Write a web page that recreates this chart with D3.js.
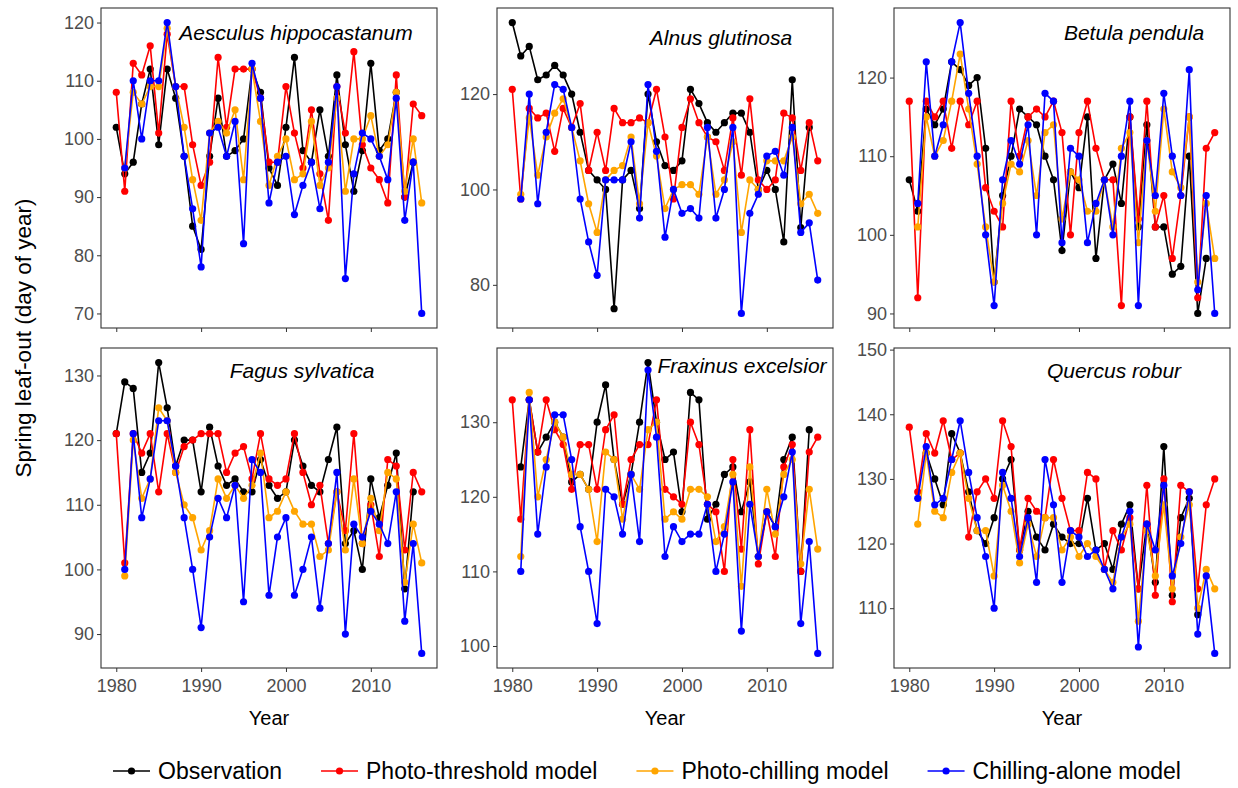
<!DOCTYPE html>
<html><head><meta charset="utf-8">
<script src="https://cdn.jsdelivr.net/npm/d3@7"></script>
<style>body{margin:0;background:#fff}svg{display:block}text{font-family:"Liberation Sans",Arial,sans-serif}</style>
</head><body><div id="chart"></div>
<script>
const years = [1980,1981,1982,1983,1984,1985,1986,1987,1988,1989,1990,1991,1992,1993,1994,1995,1996,1997,1998,1999,2000,2001,2002,2003,2004,2005,2006,2007,2008,2009,2010,2011,2012,2013,2014,2015,2016];
const species = ["Aesculus hippocastanum","Alnus glutinosa","Betula pendula","Fagus sylvatica","Fraxinus excelsior","Quercus robur"];
const seriesNames = ["Observation","Photo-threshold model","Photo-chilling model","Chilling-alone model"];
const seriesColors = ["#000000","#FF0000","#FFA500","#0000FF"];
const xTicks = [1980,1990,2000,2010];

const aesculusObs = [102,94,96,106,112,99,112,107,97,85,81,97,107,97,98,100,112,108,95,92,102,114,98,96,105,97,111,99,91,98,113,98,100,108,90,96,null];
const aesculusPT  = [108,91,113,111,116,101,118,109,109,99,92,96,114,102,112,112,112,107,96,96,109,101,95,105,94,86,109,101,115,99,95,93,89,111,90,106,104];
const aesculusPC  = [null,95,108,106,109,109,119,109,102,93,86,101,103,101,105,93,112,103,92,97,100,93,94,103,92,95,107,91,100,100,104,97,99,108,91,100,89];
const aesculusCA  = [null,95,110,100,110,110,120,109,97,88,78,101,102,97,103,82,113,107,89,96,97,87,92,96,88,96,109,76,94,101,100,97,93,107,86,96,70];

const alnusObs = [135,128,130,123,124,126,124,120,112,104,102,100,75,102,104,96,120,110,105,104,106,121,118,114,112,114,116,116,112,100,104,100,89,123,92,113,null];
const alnusPT  = [121,98,117,115,116,108,117,113,118,104,112,104,117,114,114,115,114,121,111,98,113,119,114,111,110,104,115,103,119,102,100,102,116,115,104,114,106];
const alnusPC  = [null,99,115,103,111,116,119,113,106,97,91,102,104,105,111,97,114,107,96,100,101,101,99,111,99,102,110,91,102,100,106,106,106,111,97,99,95];
const alnusCA  = [null,98,120,97,112,122,121,113,98,89,82,102,102,102,110,94,122,108,90,100,95,96,94,113,94,100,113,74,95,99,107,108,103,113,91,93,81];

const betulaObs = [107,103,116,114,116,122,121,119,120,111,94,105,110,116,115,114,110,107,98,108,106,115,97,107,109,104,115,101,114,101,101,95,96,110,90,97,null];
const betulaPT  = [117,92,117,115,117,111,117,114,117,106,103,101,117,110,115,116,115,117,113,100,113,117,111,107,107,91,115,102,117,101,105,97,105,115,92,111,113];
const betulaPC  = [null,101,115,110,112,117,123,116,109,101,94,104,109,108,112,105,113,114,102,108,107,103,103,107,101,111,113,99,112,103,116,108,106,115,94,104,97];
const betulaCA  = [null,104,122,110,114,122,127,118,110,100,91,107,112,109,114,100,118,117,99,111,110,99,104,107,100,110,117,91,112,105,118,110,105,121,93,105,90];

const fagusObs = [121,129,128,115,118,132,125,116,120,120,112,122,116,113,114,112,112,117,113,111,112,120,116,113,112,117,122,104,106,100,114,108,113,118,97,112,null];
const fagusPT  = [121,101,121,118,121,112,121,115,119,120,121,121,121,115,118,119,114,121,114,113,114,121,115,110,113,104,112,106,121,104,110,102,117,116,103,115,112];
const fagusPC  = [null,99,120,111,114,125,123,115,110,108,103,106,114,111,113,111,113,118,108,109,112,109,107,107,102,103,112,103,114,104,111,106,115,114,98,107,101];
const fagusCA  = [null,100,121,108,114,123,123,116,108,100,91,105,111,108,113,95,117,115,96,105,108,96,100,105,94,104,115,90,107,105,109,107,104,112,92,104,87];

const fraxinusObs = [null,124,133,126,128,130,128,122,123,121,130,135,125,119,123,130,138,130,125,126,118,134,133,117,119,123,124,118,122,112,118,116,125,128,110,129,null];
const fraxinusPT  = [133,117,133,126,133,129,127,121,127,127,121,129,131,119,125,127,127,133,121,120,119,130,127,119,118,110,125,113,129,111,118,112,124,127,110,126,128];
const fraxinusPC  = [null,112,134,120,125,130,128,123,123,121,114,126,125,117,123,121,129,130,117,118,117,121,121,120,114,116,123,108,124,112,121,115,123,125,111,121,113];
const fraxinusCA  = [null,110,133,115,124,131,131,125,116,110,103,121,120,115,123,114,137,128,112,116,114,115,115,119,110,115,122,102,119,112,118,116,120,126,103,114,99];

const quercusObs = [null,null,134,130,126,137,134,128,122,120,124,130,133,119,125,121,119,123,121,120,120,127,119,120,116,123,126,113,123,114,135,112,124,127,109,null,null];
const quercusPT  = [138,128,137,134,139,133,134,121,128,130,127,139,135,119,127,125,124,133,127,122,122,131,130,116,122,119,124,113,129,112,130,111,129,128,113,126,130];
const quercusPC  = [null,123,134,125,124,131,134,127,122,122,115,129,125,117,123,118,124,124,119,121,118,120,118,116,114,121,123,108,122,115,126,113,121,126,110,116,113];
const quercusCA  = [null,127,135,126,127,133,139,131,124,118,110,131,127,118,124,114,133,126,114,122,121,118,119,116,113,121,125,104,123,119,129,115,120,128,106,115,103];

const yTicks = [[70,80,90,100,110,120],[80,100,120],[90,100,110,120],[90,100,110,120,130],[100,110,120,130],[110,120,130,140,150]];
const yLimits = [[67.5,122.5],[70.95,138.05],[88.15,128.85],[84.75,134.25],[97.05,139.95],[100.75,150.25]];

const panelSeries = [
  [aesculusObs,aesculusPT,aesculusPC,aesculusCA],
  [alnusObs,alnusPT,alnusPC,alnusCA],
  [betulaObs,betulaPT,betulaPC,betulaCA],
  [fagusObs,fagusPT,fagusPC,fagusCA],
  [fraxinusObs,fraxinusPT,fraxinusPC,fraxinusCA],
  [quercusObs,quercusPT,quercusPC,quercusCA]
];

// layout
const W = 1238, H = 788;
const panelW = 336, panelH = 320;
const lefts = [101, 497, 894], tops = [8, 348];
const labelPos = [[195,32],[224,37],[240,32],[201,30],[245,25],[220,30]];

const svg = d3.select("#chart").append("svg").attr("width", W).attr("height", H);
const x = d3.scaleLinear().domain([1978.2, 2017.8]).range([0, panelW]);

species.forEach((sp, p) => {
  const col = p % 3, row = Math.floor(p / 3);
  const g = svg.append("g").attr("transform", `translate(${lefts[col]},${tops[row]})`);
  const y = d3.scaleLinear().domain(yLimits[p]).range([panelH, 0]);

  const ya = g.append("g").call(d3.axisLeft(y).tickValues(yTicks[p]).tickSize(4).tickPadding(3));
  ya.select(".domain").remove();
  ya.selectAll("line").attr("stroke", "#333");
  ya.selectAll("text").attr("fill", "#4D4D4D").style("font-size", "18px");

  const xa = g.append("g").attr("transform", `translate(0,${panelH})`)
    .call(d3.axisBottom(x).tickValues(xTicks).tickSize(4).tickPadding(7)
      .tickFormat(row === 1 ? d3.format("d") : () => ""));
  xa.select(".domain").remove();
  xa.selectAll("line").attr("stroke", "#333");
  xa.selectAll("text").attr("fill", "#4D4D4D").style("font-size", "18px");

  const line = d3.line().defined(d => d.v != null).x(d => x(d.year)).y(d => y(d.v));
  panelSeries[p].forEach((vals, s) => {
    const data = years.map((yr, i) => ({year: yr, v: vals[i]}));
    g.append("path").datum(data).attr("fill", "none").attr("stroke", seriesColors[s])
      .attr("stroke-width", 1.6).attr("d", line);
    g.selectAll(null).data(data.filter(d => d.v != null)).enter().append("circle")
      .attr("cx", d => x(d.year)).attr("cy", d => y(d.v)).attr("r", 3.6)
      .attr("fill", seriesColors[s]);
  });

  g.append("rect").attr("width", panelW).attr("height", panelH)
    .attr("fill", "none").attr("stroke", "#333").attr("stroke-width", 1.1);

  g.append("text").attr("x", labelPos[p][0]).attr("y", labelPos[p][1])
    .attr("text-anchor", "middle").style("font-style", "italic").style("font-size", "21px")
    .attr("fill", "#000").text(sp);

  if (row === 1) {
    svg.append("text").attr("x", lefts[col] + panelW / 2).attr("y", 725)
      .attr("text-anchor", "middle").style("font-size", "20px").text("Year");
  }
});

svg.append("text").attr("transform", "translate(31,338) rotate(-90)")
  .attr("text-anchor", "middle").style("font-size", "22.5px").text("Spring leaf-out (day of year)");

// legend
const lg = svg.append("g").attr("transform", "translate(0,771)");
let cx = 113;
seriesNames.forEach((nm, s) => {
  const it = lg.append("g").attr("transform", `translate(${cx},0)`);
  it.append("line").attr("x1", 0).attr("x2", 37).attr("y1", 0).attr("y2", 0)
    .attr("stroke", seriesColors[s]).attr("stroke-width", 1.6);
  it.append("circle").attr("cx", 18.5).attr("cy", 0).attr("r", 3.6).attr("fill", seriesColors[s]);
  const t = it.append("text").attr("x", 45).attr("y", 0).attr("dy", "0.35em")
    .style("font-size", "23px").text(nm);
  cx += 45 + t.node().getComputedTextLength() + 39;
});
</script></body></html>
